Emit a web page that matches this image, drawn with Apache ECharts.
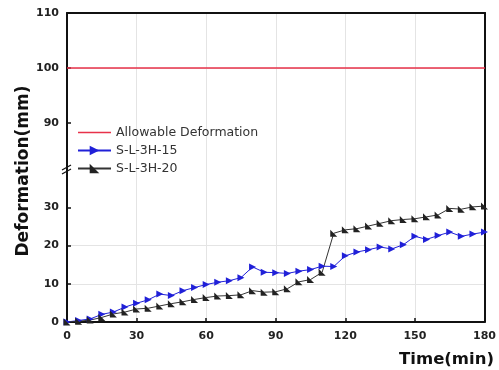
<!DOCTYPE html>
<html>
<head>
<meta charset="utf-8">
<script src="https://cdn.jsdelivr.net/npm/echarts@6/dist/echarts.min.js"></script>
<style>
  html, body { margin: 0; padding: 0; background: #fff; }
  #chart { width: 499px; height: 370px; }
</style>
</head>
<body>
<div id="chart"></div>
<script>
// time in minutes, one reading every 5 min
const times = [0, 5, 10, 15, 20, 25, 30, 35, 40, 45, 50, 55, 60, 65, 70, 75, 80, 85, 90,
  95, 100, 105, 110, 115, 120, 125, 130, 135, 140, 145, 150, 155, 160, 165, 170, 175, 180];
const sl15 = [0, 0.4, 0.8, 2.0, 2.6, 3.9, 4.9, 5.8, 7.3, 6.9, 8.2, 9.0, 9.8, 10.4, 10.8, 11.6, 14.4, 13.0, 12.9,
  12.7, 13.3, 13.7, 14.6, 14.5, 17.3, 18.3, 18.9, 19.6, 19.1, 20.2, 22.4, 21.6, 22.6, 23.5, 22.4, 23.0, 23.5];
const sl20 = [0, 0.2, 0.5, 1.2, 2.1, 2.6, 3.4, 3.6, 4.2, 4.8, 5.3, 5.9, 6.4, 6.8, 6.9, 7.1, 8.2, 7.8, 7.9,
  8.7, 10.5, 11.1, 13.0, 23.2, 24.1, 24.4, 25.1, 25.8, 26.5, 26.8, 27.0, 27.5, 28.0, 29.7, 29.5, 30.1, 30.3];
const allowable = 100;
const xTicks = [0, 30, 60, 90, 120, 150, 180];
const upperTicks = [90, 100, 110];
const lowerTicks = [0, 10, 20, 30];

const font = 'DejaVu Sans';
const axisLine = { show: true, lineStyle: { color: '#111', width: 2 } };
const gridLine = { show: true, lineStyle: { color: '#e4e4e4', width: 1 } };
const labelStyle = { fontFamily: font, fontWeight: 'bold', fontSize: 11, color: '#222' };

const chart = echarts.init(document.getElementById('chart'));

chart.setOption({
  animation: false,
  backgroundColor: '#fff',
  grid: [
    { left: 67, right: 14, top: 13, height: 156 },
    { left: 67, right: 14, top: 169, height: 153 }
  ],
  legend: {
    orient: 'vertical',
    left: 77,
    top: 126,
    padding: 0,
    itemWidth: 33,
    itemHeight: 12,
    itemGap: 5,
    textStyle: { fontFamily: font, fontSize: 12.5, color: '#333' },
    data: [
      { name: 'Allowable Deformation', icon: 'path://M0,0 H33 V1.5 H0 Z' },
      'S-L-3H-15',
      'S-L-3H-20'
    ]
  },
  xAxis: [
    {
      gridIndex: 1, type: 'value', min: 0, max: 180, interval: 30,
      axisLine: axisLine,
      axisTick: { inside: true, length: 4, lineStyle: { color: '#111', width: 1.5 } },
      axisLabel: Object.assign({ margin: 9, customValues: xTicks }, labelStyle),
      splitLine: gridLine
    },
    {
      gridIndex: 0, type: 'value', position: 'top', min: 0, max: 180, interval: 30,
      axisLine: axisLine, axisTick: { show: false }, axisLabel: { show: false },
      splitLine: gridLine
    }
  ],
  yAxis: [
    {
      gridIndex: 0, type: 'value', min: 81.7, max: 110, splitNumber: 3,
      axisLine: axisLine,
      axisTick: { inside: true, length: 4, customValues: upperTicks, lineStyle: { color: '#111', width: 1.5 } },
      axisLabel: Object.assign({ margin: 8, customValues: upperTicks }, labelStyle),
      splitLine: Object.assign({ showMinLine: false }, gridLine)
    },
    {
      gridIndex: 0, type: 'value', position: 'right', min: 81.7, max: 110,
      axisLine: axisLine, axisTick: { show: false }, axisLabel: { show: false }, splitLine: { show: false }
    },
    {
      gridIndex: 1, type: 'value', min: 0, max: 40, interval: 10,
      axisLine: axisLine,
      axisTick: { inside: true, length: 4, customValues: lowerTicks, lineStyle: { color: '#111', width: 1.5 } },
      axisLabel: Object.assign({ margin: 8, customValues: lowerTicks }, labelStyle),
      splitLine: Object.assign({ showMaxLine: false }, gridLine)
    },
    {
      gridIndex: 1, type: 'value', position: 'right', min: 0, max: 40,
      axisLine: axisLine, axisTick: { show: false }, axisLabel: { show: false }, splitLine: { show: false }
    }
  ],
  series: [
    {
      name: 'Allowable Deformation', type: 'line', xAxisIndex: 1, yAxisIndex: 0,
      symbol: 'none', color: '#e8324a',
      lineStyle: { width: 1.5, color: '#e8324a' },
      data: [[xTicks[0], allowable], [xTicks[xTicks.length - 1], allowable]]
    },
    {
      name: 'S-L-3H-15', type: 'line', xAxisIndex: 0, yAxisIndex: 2,
      color: '#2020d8',
      symbol: 'triangle', symbolRotate: -90, symbolSize: 7, showAllSymbol: true,
      lineStyle: { width: 1, color: '#2020d8' },
      itemStyle: { color: '#2020d8' },
      data: times.map((t, i) => [t, sl15[i]])
    },
    {
      name: 'S-L-3H-20', type: 'line', xAxisIndex: 0, yAxisIndex: 2,
      color: '#222',
      symbol: 'path://M0,0 L0,10 L10,10 Z', symbolSize: 7, showAllSymbol: true,
      lineStyle: { width: 1, color: '#333' },
      itemStyle: { color: '#222' },
      data: times.map((t, i) => [t, sl20[i]])
    }
  ],
  graphic: [
    {
      type: 'text', x: 24, y: 171, rotation: Math.PI / 2,
      style: {
        text: 'Deformation(mm)', fontFamily: font, fontWeight: 'bold', fontSize: 17,
        fill: '#111', align: 'center', verticalAlign: 'middle'
      }
    },
    {
      type: 'text', x: 494, y: 360,
      style: {
        text: 'Time(min)', fontFamily: font, fontWeight: 'bold', fontSize: 16.5,
        fill: '#111', align: 'right', verticalAlign: 'middle'
      }
    },
    {
      type: 'group', x: 67, y: 169, z: 100,
      children: [
        { type: 'line', shape: { x1: -5, y1: 1, x2: 4, y2: -4 }, style: { stroke: '#111', lineWidth: 1.3 } },
        { type: 'line', shape: { x1: -5, y1: 5, x2: 4, y2: 0 }, style: { stroke: '#111', lineWidth: 1.3 } }
      ]
    }
  ]
});
</script>
</body>
</html>
